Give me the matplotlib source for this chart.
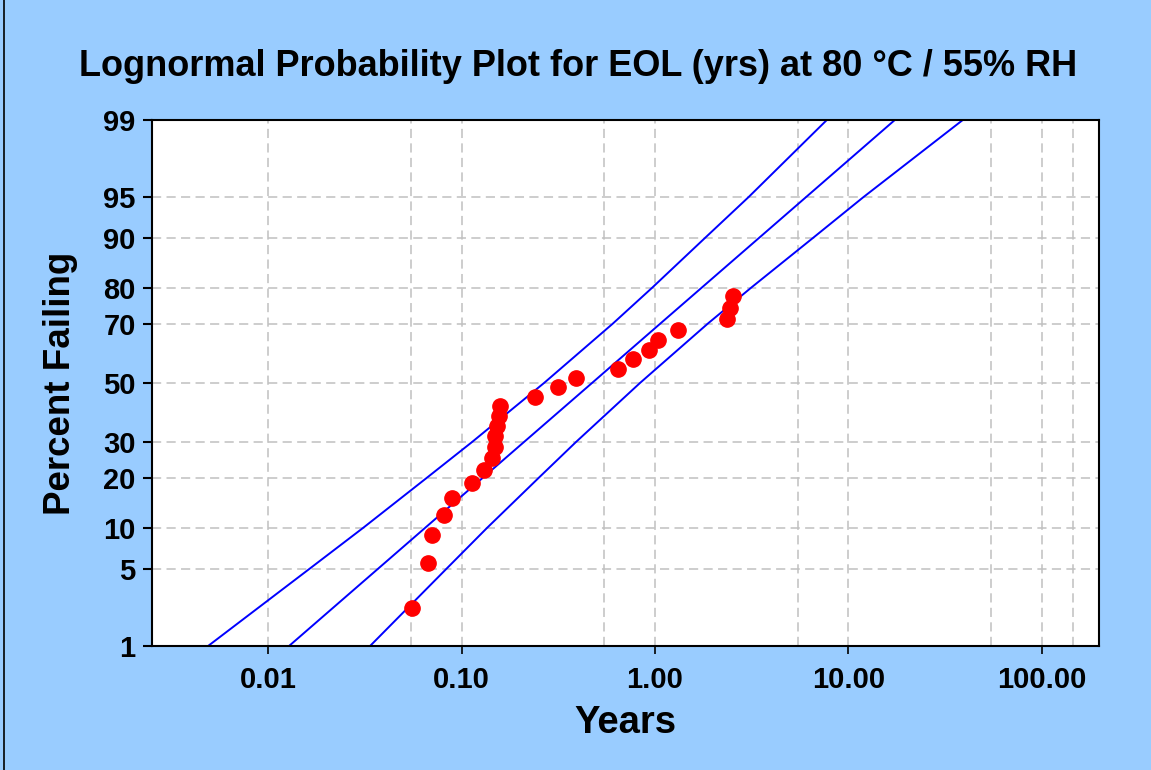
import math
from statistics import NormalDist
import numpy as np
import matplotlib
matplotlib.use("Agg")
import matplotlib.pyplot as plt
from matplotlib.ticker import FixedLocator, NullFormatter
from matplotlib.lines import Line2D

# ---------------- data ----------------
title = "Lognormal Probability Plot for EOL (yrs) at 80 \u00b0C / 55% RH"
x_label = "Years"
y_label = "Percent Failing"

# failure times (years) and plotting positions (percent failing)
fail_years = [0.0552, 0.0668, 0.0701, 0.0808, 0.0893, 0.1133, 0.1307, 0.1438,
              0.1495, 0.1495, 0.1526, 0.1568, 0.1581, 0.2406, 0.3137, 0.3906,
              0.6408, 0.7743, 0.9344, 1.0314, 1.3087, 2.372, 2.441, 2.548]
fail_pct = [2.30, 5.59, 8.88, 12.17, 15.46, 18.75, 22.04, 25.33, 28.62, 31.91,
            35.20, 38.49, 41.78, 45.07, 48.36, 51.64, 54.93, 58.22, 61.51,
            64.80, 68.09, 71.38, 74.67, 77.96]

# fitted line and confidence bounds (years at given percent failing)
line_pct = [1, 5, 10, 20, 30, 50, 70, 80, 90, 95, 99]
fit_years = [0.01288, 0.03703, 0.0650, 0.1285, 0.2101, 0.4737, 1.066, 1.743,
             3.447, 6.053, 17.39]
upper_years = [0.004914, 0.01639, 0.03109, 0.06601, 0.1132, 0.2676, 0.6058,
               0.9672, 1.813, 3.053, 7.742]
lower_years = [0.03377, 0.08365, 0.1359, 0.2503, 0.3902, 0.8385, 1.877, 3.141,
               6.555, 11.99, 39.06]

y_ticks = [1, 5, 10, 20, 30, 50, 70, 80, 90, 95, 99]
y_tick_labels = ["1", "5", "10", "20", "30", "50", "70", "80", "90", "95", "99"]
x_ticks = [0.01, 0.1, 1, 10, 100]
x_tick_labels = ["0.01", "0.10", "1.00", "10.00", "100.00"]
x_extra_grid = [0.0548, 0.548, 5.48, 54.8, 145]

# ---------------- probability (probit) scale ----------------
_nd = NormalDist()


def _fwd(p):
    p = np.asarray(p, dtype=float)
    q = np.clip(p / 100.0, 1e-9, 1 - 1e-9)
    return np.vectorize(_nd.inv_cdf, otypes=[float])(q)


def _inv(z):
    z = np.asarray(z, dtype=float)
    f = np.vectorize(lambda v: 0.5 * (1 + math.erf(v / math.sqrt(2))), otypes=[float])
    return f(z) * 100.0


plt.rcParams["font.family"] = ["Liberation Sans", "DejaVu Sans"]
plt.rcParams["font.weight"] = "bold"

W, H = 1151, 770
fig = plt.figure(figsize=(W / 100, H / 100), dpi=100)
fig.patch.set_facecolor("#99CCFF")

ax = fig.add_axes([151.7 / W, 1 - 645.7 / H, 947.6 / W, 525.7 / H])
ax.set_facecolor("white")
ax.set_xscale("log")
ax.set_yscale("function", functions=(_fwd, _inv))
ax.set_xlim(0.0025, 198.5)
ax.set_ylim(1, 99)

# ticks and grid
ax.set_xticks(x_ticks)
ax.set_xticklabels(x_tick_labels)
ax.xaxis.set_minor_locator(FixedLocator(x_extra_grid))
ax.xaxis.set_minor_formatter(NullFormatter())
ax.yaxis.set_major_locator(FixedLocator(y_ticks))
ax.set_yticklabels(y_tick_labels)
ax.yaxis.set_minor_locator(FixedLocator([]))
ax.set_axisbelow(True)
ax.grid(True, which="both", color="#C0C0C0", linestyle=(0, (6, 3.5)), linewidth=1.1)

ax.tick_params(axis="x", which="major", length=6, width=1.2, pad=8.5,
               labelsize=21, color="black")
ax.tick_params(axis="y", which="major", length=6.5, width=1.5, pad=5,
               labelsize=21, color="black")
ax.tick_params(which="minor", length=0)
for lab in ax.get_xticklabels() + ax.get_yticklabels():
    lab.set_fontweight("bold")

for s in ax.spines.values():
    s.set_color("black")
    s.set_linewidth(1.5)

# fitted line and bounds
for ys in (upper_years, fit_years, lower_years):
    ax.plot(ys, line_pct, color="#0000FF", linewidth=1.4, zorder=2)

# data points
ax.plot(fail_years, fail_pct, linestyle="none", marker="o", markersize=11,
        color="#FF0000", markeredgecolor="#FF0000", zorder=3, clip_on=False)

# text
fig.text(0.502, 1 - 76 / H, title, ha="center", va="baseline",
         fontsize=26, fontweight="bold")
fig.text(625.5 / W, 1 - 733 / H, x_label, ha="center", va="baseline",
         fontsize=27.5, fontweight="bold")
fig.text(70 / W, 1 - 383 / H, y_label, rotation=90, rotation_mode="anchor",
         ha="center", va="baseline", fontsize=26.5, fontweight="bold")

# figure border (left edge)
fig.add_artist(Line2D([3.5 / W, 3.5 / W], [0, 1], color="black", linewidth=1.2,
                      transform=fig.transFigure))

fig.savefig("out.png", dpi=100, facecolor=fig.get_facecolor())
